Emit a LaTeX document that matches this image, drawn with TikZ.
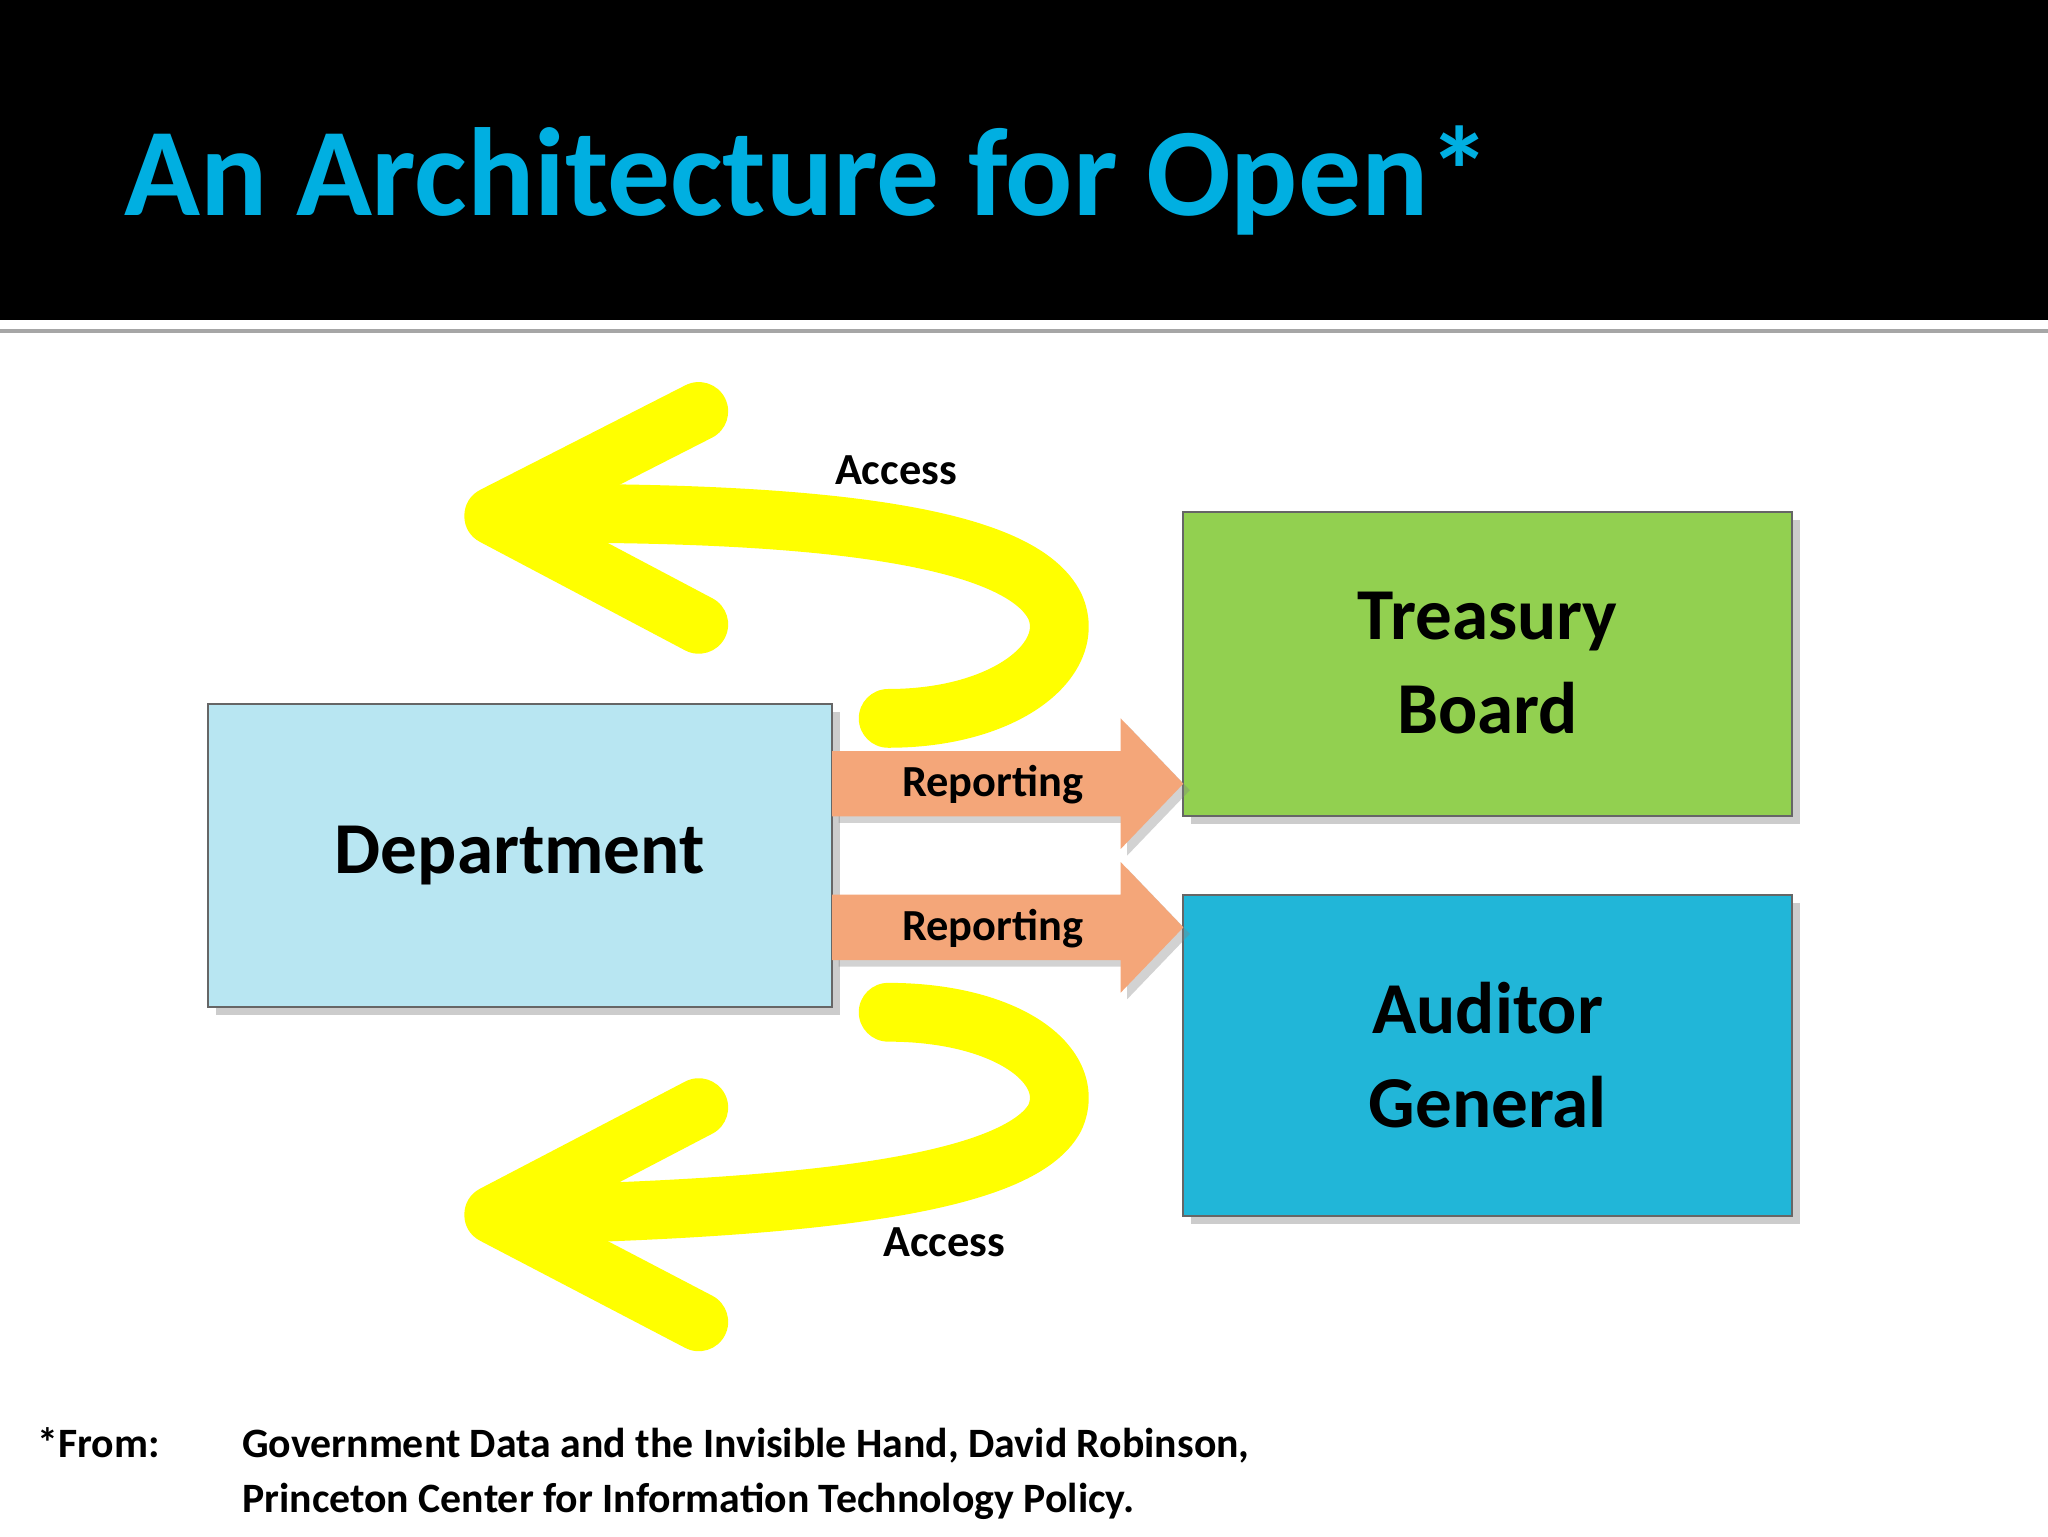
\documentclass[tikz,border=0pt]{standalone}
\usepackage{fontspec}
\setmainfont{Carlito}
\usetikzlibrary{shadows}
\definecolor{titlecyan}{RGB}{0,175,225}
\definecolor{deptblue}{RGB}{184,230,242}
\definecolor{tbgreen}{RGB}{146,208,80}
\definecolor{agblue}{RGB}{33,182,216}
\definecolor{reporange}{RGB}{244,166,121}
\definecolor{arrowyellow}{RGB}{255,255,0}
\tikzset{
  box/.style={draw=gray!80!black, line width=1.5pt, drop shadow={shadow xshift=6pt, shadow yshift=-6pt, opacity=0.4}},
  yel/.style={draw=arrowyellow, line width=45pt, line cap=round, line join=round},
  rep/.style={fill=reporange, draw=none, drop shadow={shadow xshift=5pt, shadow yshift=-5pt, opacity=0.35}},
  boxtext/.style={font=\bfseries\fontsize{56}{72}\selectfont, align=center},
  lab/.style={font=\bfseries\fontsize{34}{40}\selectfont},
  foot/.style={font=\bfseries\fontsize{32}{42}\selectfont, anchor=base west}
}
\begin{document}
\begin{tikzpicture}[x=1pt,y=-1pt]
\useasboundingbox (0,0) rectangle (1568,1176);
\fill[white] (0,0) rectangle (1568,1176);
\fill[black] (0,0) rectangle (1568,245);
\fill[gray!70] (0,252) rectangle (1568,255);
\node[anchor=base west, text=titlecyan, font=\bfseries\fontsize{96}{110}\selectfont, inner sep=0] (title) at (95,165) {An Architecture for Open*};
% boxes
\draw[box, fill=deptblue] (159,539) rectangle (637,771);
\node[boxtext] (dept) at (398,655) {Department};
\draw[box, fill=tbgreen] (906,392) rectangle (1372,625);
\node[boxtext] (tb) at (1139,508) {Treasury\\Board};
\draw[box, fill=agblue] (906,685) rectangle (1372,931);
\node[boxtext] (ag) at (1139,808) {Auditor\\General};
% reporting arrows
\fill[rep] (637,575) -- (858,575) -- (858,550) -- (906,600) -- (858,650) -- (858,625) -- (637,625) -- cycle;
\fill[rep] (637,685) -- (858,685) -- (858,660) -- (906,710) -- (858,760) -- (858,735) -- (637,735) -- cycle;
\node[lab] (r1) at (760,601) {Reporting};
\node[lab] (r2) at (760,711) {Reporting};
% yellow arrows
\draw[yel] (680,550) .. controls (770,550) and (825,505) .. (808,465) .. controls (780,405) and (600,392) .. (400,393);
\draw[yel] (535,315) -- (378,395) -- (535,478);
\draw[yel] (680,775) .. controls (770,775) and (825,815) .. (808,855) .. controls (780,910) and (600,925) .. (400,930);
\draw[yel] (535,848) -- (378,930) -- (535,1012);
\node[lab] (a1) at (686,360) {Access};
\node[lab] (a2) at (723,951) {Access};
% footer
\node[foot] (f0) at (25,1116) {*From:};
\node[foot] (f1) at (182,1116) {Government Data and the Invisible Hand, David Robinson,};
\node[foot] (f2) at (182,1158) {Princeton Center for Information Technology Policy.};
\end{tikzpicture}
\end{document}
